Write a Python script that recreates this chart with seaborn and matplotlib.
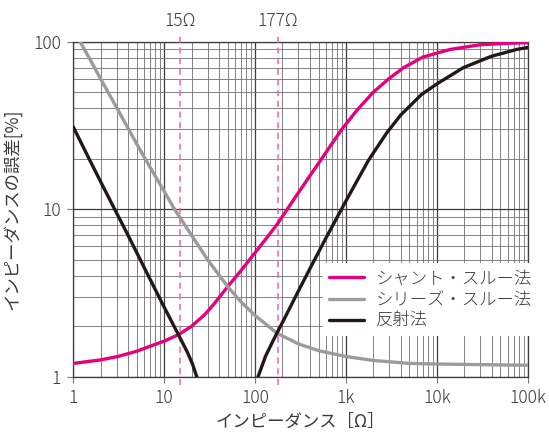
import matplotlib
matplotlib.use("Agg")
import matplotlib.pyplot as plt
import matplotlib.ticker as mticker
import numpy as np
import pandas as pd
import seaborn as sns

# values (impedance in ohm, error in %)
shunt_z = [1, 2, 3.1, 5, 7, 10, 14.6, 20, 28, 35, 50, 70, 100, 140, 177, 263,
           400, 540, 700, 900, 1300, 2000, 3000, 4300, 7000, 14000, 30000,
           60000, 100000]
shunt_err = [1.2, 1.26, 1.32, 1.42, 1.52, 1.63, 1.79, 2.0, 2.35, 2.7, 3.45,
             4.3, 5.5, 6.95, 8.2, 11.3, 15.8, 20, 24.6, 30, 38.6, 50, 60.5,
             70, 81, 90, 96, 98, 98.7]

series_z = [1, 1.5, 2, 3, 4, 5, 7, 10, 13, 20, 30, 50, 70, 100, 174, 300,
            500, 1000, 2000, 5000, 10000, 100000]
series_err = [118, 80, 60, 40.5, 30.5, 24.5, 17.8, 12.8, 10, 7.0, 5.0, 3.45,
              2.8, 2.32, 1.82, 1.57, 1.43, 1.32, 1.25, 1.2, 1.19, 1.17]

refl_lo_z = [1, 1.5, 2, 2.7, 4, 6.7, 10, 14.6, 18, 20.5, 22.8, 24]
refl_lo_err = [31, 19.9, 14.6, 10.6, 7.0, 4.0, 2.6, 1.75, 1.40, 1.19, 1.0, 0.92]
refl_hi_z = [104, 108, 130, 150, 174, 220, 300, 400, 600, 1000, 1300, 1760,
             2800, 4000, 6800, 10000, 19500, 40000, 75500, 100000]
refl_hi_err = [0.9, 1.0, 1.32, 1.55, 1.82, 2.33, 3.25, 4.4, 6.7, 11.2, 14.5,
               19.5, 28.5, 36.5, 48.5, 56, 70, 82, 90, 92.5]

marker_z = [15, 177]
marker_labels = ["15Ω", "177Ω"]

legend_labels = ["シャント・スルー法", "シリーズ・スルー法", "反射法"]
xtick_vals = [1, 10, 100, 1000, 10000, 100000]
xtick_labels = ["1", "10", "100", "1k", "10k", "100k"]
ytick_vals = [1, 10, 100]
ytick_labels = ["1", "10", "100"]

MAGENTA = "#e4007f"
GRAY = "#9b9b9b"
BLACK = "#231815"
PINK = "#f75fae"
TEXT = "#3a3a3a"

sns.set_theme(style="white")
plt.rcParams["font.family"] = ["Noto Sans CJK JP", "DejaVu Sans"]
plt.rcParams["font.weight"] = "light"
plt.rcParams["font.size"] = 12.5

fig = plt.figure(figsize=(5.49, 4.40), dpi=100)
ax = fig.add_axes([0.1335, 0.1439, 0.9612 - 0.1335, 0.905 - 0.1439])
ax.set_xscale("log")
ax.set_yscale("log")

shunt = pd.DataFrame({"z": shunt_z, "err": shunt_err})
series = pd.DataFrame({"z": series_z, "err": series_err})
refl_lo = pd.DataFrame({"z": refl_lo_z, "err": refl_lo_err})
refl_hi = pd.DataFrame({"z": refl_hi_z, "err": refl_hi_err})

lw = 2.4
sns.lineplot(data=shunt, x="z", y="err", ax=ax, color=MAGENTA, lw=lw,
             label=legend_labels[0], zorder=4)
sns.lineplot(data=series, x="z", y="err", ax=ax, color=GRAY, lw=lw,
             label=legend_labels[1], zorder=4)
sns.lineplot(data=refl_lo, x="z", y="err", ax=ax, color=BLACK, lw=lw,
             label=legend_labels[2], zorder=4)
sns.lineplot(data=refl_hi, x="z", y="err", ax=ax, color=BLACK, lw=lw,
             zorder=4)
for ln in ax.lines:
    ln.set_solid_joinstyle("round")

ax.set_xlim(1, 100000)
ax.set_ylim(1, 100)

# grid
ax.xaxis.set_major_locator(mticker.FixedLocator(xtick_vals))
ax.xaxis.set_minor_locator(mticker.LogLocator(base=10, subs=np.arange(2, 10)))
ax.yaxis.set_major_locator(mticker.FixedLocator(ytick_vals))
ax.yaxis.set_minor_locator(mticker.LogLocator(base=10, subs=np.arange(2, 10)))
ax.xaxis.set_minor_formatter(mticker.NullFormatter())
ax.yaxis.set_minor_formatter(mticker.NullFormatter())
ax.set_xticklabels(xtick_labels)
ax.set_yticklabels(ytick_labels)
ax.grid(which="major", color="#3c3c3c", lw=0.9)
ax.grid(which="minor", color="#707070", lw=0.6)
ax.set_axisbelow(True)
for sp in ax.spines.values():
    sp.set_color("#3c3c3c")
    sp.set_linewidth(0.9)
ax.tick_params(which="major", length=4, width=0.8, color="#777777",
               labelcolor=TEXT, labelsize=12.5, pad=5, left=True, bottom=True)
ax.tick_params(which="minor", length=0)

# marker lines
for z, lab in zip(marker_z, marker_labels):
    ax.axvline(z, ymin=-0.025, ymax=1.03, color=PINK, lw=1.1,
               ls=(0, (4, 3)), clip_on=False, zorder=3)
    ax.text(z, 1.063, lab, transform=ax.get_xaxis_transform(), ha="center",
            va="center", color=TEXT, fontsize=12.5)

ax.set_xlabel("インピーダンス［Ω］", color=TEXT, fontsize=12.5, labelpad=4)
ax.set_ylabel("インピーダンスの誤差[%]", color=TEXT, fontsize=12.5, labelpad=8)

leg = ax.legend(loc="upper left", bbox_to_anchor=(0.588, 0.402),
                bbox_transform=fig.transFigure, frameon=True, fancybox=False,
                facecolor="white", edgecolor="none", framealpha=1,
                handlelength=2.0, handletextpad=0.7, labelspacing=0.2,
                borderpad=0.35, borderaxespad=0, fontsize=12.5)
leg.set_zorder(5)
for t in leg.get_texts():
    t.set_color(TEXT)

fig.savefig("out.png", dpi=100)
